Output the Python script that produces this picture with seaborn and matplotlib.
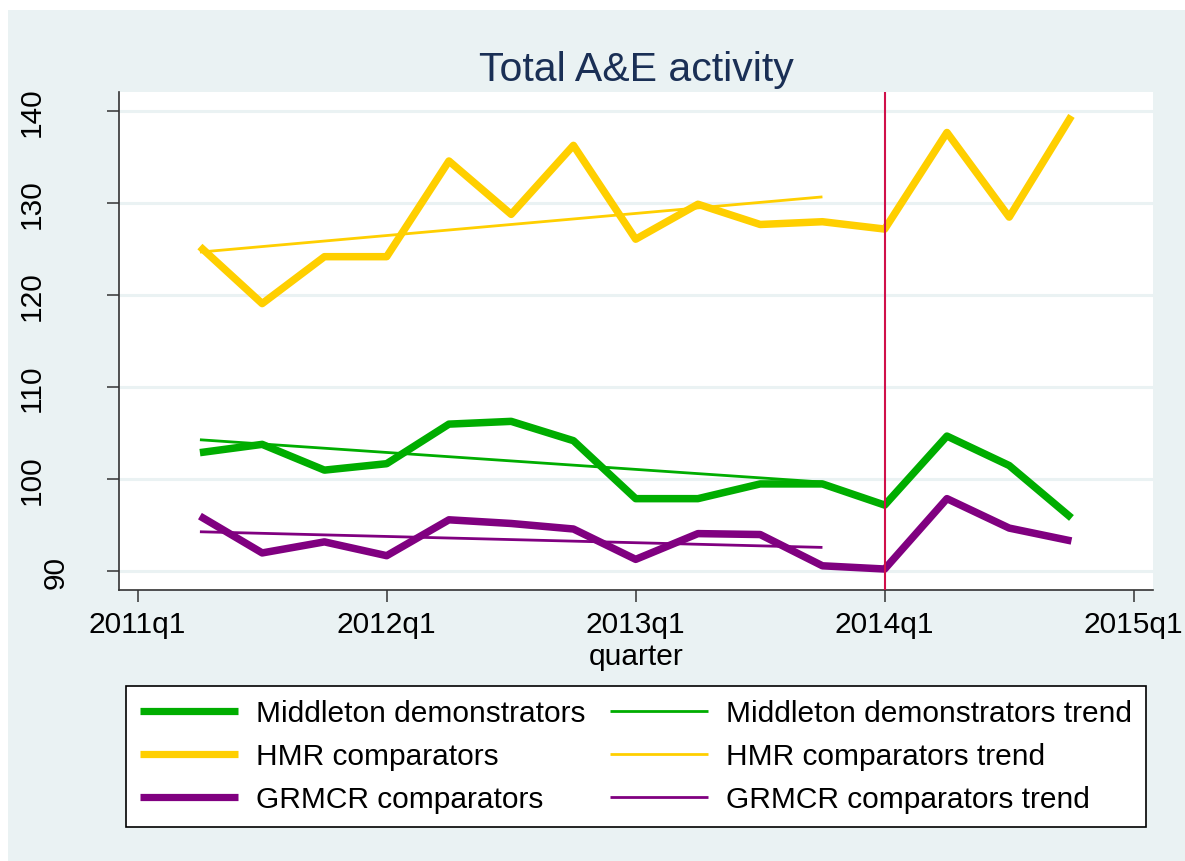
import matplotlib
matplotlib.use("Agg")
import matplotlib.pyplot as plt
import matplotlib.transforms as mtransforms
from matplotlib.patches import Rectangle
import seaborn as sns
import numpy as np

# ---- data (quarter index: 0 = 2011q1) ----
quarters = [1, 2, 3, 4, 5, 6, 7, 8, 9, 10, 11, 12, 13, 14, 15]
middleton = [102.9, 103.8, 101.0, 101.7, 106.0, 106.3, 104.2, 97.9, 97.9, 99.5, 99.5, 97.2, 104.7, 101.5, 95.8]
hmr = [125.3, 119.1, 124.2, 124.2, 134.6, 128.8, 136.3, 126.1, 129.9, 127.7, 128.0, 127.2, 137.7, 128.5, 139.5]
grmcr = [96.0, 92.0, 93.2, 91.7, 95.6, 95.2, 94.6, 91.3, 94.1, 94.0, 90.6, 90.25, 97.9, 94.7, 93.3]

trend_quarters = [1, 11]
middleton_trend = [104.3, 99.7]
hmr_trend = [124.7, 130.7]
grmcr_trend = [94.3, 92.6]

intervention_quarter = 12
xtick_pos = [0, 4, 8, 12, 16]
xtick_labels = ["2011q1", "2012q1", "2013q1", "2014q1", "2015q1"]
ytick_pos = [90, 100, 110, 120, 130, 140]

GREEN = "#00AD00"
YELLOW = "#FFCF00"
PURPLE = "#800080"
RED = "#D0104A"
BG = "#EAF2F3"
NAVY = "#1A2F55"

sns.set_style("white")
plt.rcParams["font.family"] = ["Liberation Sans", "DejaVu Sans"]
plt.rcParams["text.color"] = "black"

W, H = 1185, 862
fig = plt.figure(figsize=(W / 100, H / 100), dpi=100)
fig.patch.set_facecolor("white")
fig.add_artist(Rectangle((8 / W, 0), 1 - 8 / W, 1 - 11 / H, transform=fig.transFigure,
                         facecolor=BG, edgecolor="none", zorder=-10))

ax = fig.add_axes([119 / W, 1 - 591 / H, (1153 - 119) / W, (591 - 93) / H])
ax.set_facecolor("white")

thick = 5.4
thin = 2.0
sns.lineplot(x=quarters, y=middleton, color=GREEN, linewidth=thick, ax=ax,
             label="Middleton demonstrators", solid_capstyle="butt")
sns.lineplot(x=quarters, y=hmr, color=YELLOW, linewidth=thick, ax=ax,
             label="HMR comparators", solid_capstyle="butt")
sns.lineplot(x=quarters, y=grmcr, color=PURPLE, linewidth=thick, ax=ax,
             label="GRMCR comparators", solid_capstyle="butt")
sns.lineplot(x=trend_quarters, y=middleton_trend, color=GREEN, linewidth=thin, ax=ax,
             label="Middleton demonstrators trend", solid_capstyle="butt")
sns.lineplot(x=trend_quarters, y=hmr_trend, color=YELLOW, linewidth=thin, ax=ax,
             label="HMR comparators trend", solid_capstyle="butt")
sns.lineplot(x=trend_quarters, y=grmcr_trend, color=PURPLE, linewidth=thin, ax=ax,
             label="GRMCR comparators trend", solid_capstyle="butt")
ax.axvline(intervention_quarter, color=RED, linewidth=1.5, zorder=5)

ax.set_xlim(-0.3, 16.31)
ax.set_ylim(87.97, 142.1)

ax.set_xticks(xtick_pos)
ax.set_xticklabels(xtick_labels)
ax.set_yticks(ytick_pos)
ax.set_yticklabels([str(v) for v in ytick_pos], rotation=90, va="center")

ax.grid(False)
ax.yaxis.grid(True, color=BG, linewidth=2.2)
ax.set_axisbelow(True)

for s in ["top", "right"]:
    ax.spines[s].set_visible(False)
for s in ["left", "bottom"]:
    ax.spines[s].set_color("#333333")
    ax.spines[s].set_linewidth(1.2)

ax.tick_params(axis="both", which="major", direction="out", length=8.6, width=1.1,
               color="#333333", labelsize=21.5, labelcolor="black")
ax.tick_params(axis="x", pad=6, bottom=True)
ax.tick_params(axis="y", pad=44, left=True)

ax.set_xlabel("quarter", fontsize=21.5, labelpad=3, color="black")
ax.set_ylabel("")

fig.text(636 / W, 1 - 81 / H, "Total A&E activity", fontsize=29.5, color=NAVY,
         ha="center", va="baseline")

handles, labels = ax.get_legend_handles_labels()
ax.get_legend().remove()
leg = fig.legend(handles, labels, loc="upper center", ncol=2,
                 bbox_to_anchor=(636 / W, 1 - 687 / H), borderaxespad=0,
                 fontsize=21.5, frameon=True, fancybox=False, edgecolor="black",
                 facecolor="white", framealpha=1, handlelength=3.3, handletextpad=0.6,
                 columnspacing=0.8, labelspacing=0.5, borderpad=0.45)
leg.get_frame().set_linewidth(1.2)
for t in leg.get_texts():
    t.set_color("black")
for h in leg.legend_handles:
    lw = h.get_linewidth()
    h.set_linewidth(5.2 if lw > 3 else 2.0)

# shift the two-digit label as in the reference
for lbl in ax.get_yticklabels():
    if lbl.get_text() == "90":
        lbl.set_transform(lbl.get_transform() +
                          mtransforms.ScaledTranslation(0.24, 0, fig.dpi_scale_trans))

fig.savefig("out.png", dpi=100, facecolor=fig.get_facecolor())
